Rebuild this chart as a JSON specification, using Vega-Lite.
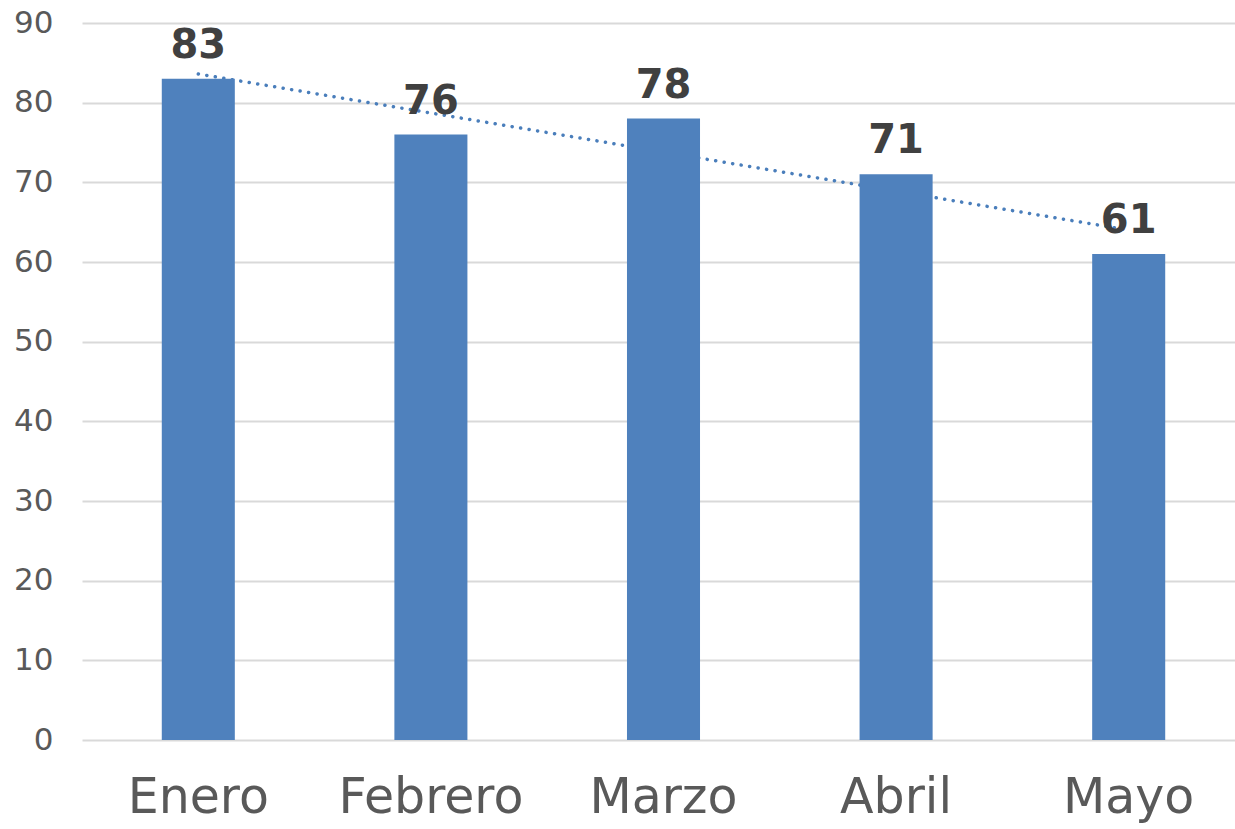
{
  "$schema": "https://vega.github.io/schema/vega-lite/v6.json",
  "autosize": "none",
  "width": 1153,
  "height": 717,
  "padding": {"left": 82, "top": 23, "right": 0, "bottom": 89},
  "background": "white",
  "config": {"view": {"stroke": null}, "font": "DejaVu Sans"},
  "data": {"values": [
    {"mes": "Enero", "valor": 83, "tendencia": 83.6},
    {"mes": "Febrero", "valor": 76, "tendencia": 78.7},
    {"mes": "Marzo", "valor": 78, "tendencia": 73.8},
    {"mes": "Abril", "valor": 71, "tendencia": 68.9},
    {"mes": "Mayo", "valor": 61, "tendencia": 64.0}
  ]},
  "encoding": {
    "x": {"field": "mes", "type": "nominal", "sort": null,
      "scale": {"range": [0, 1163], "paddingInner": 0.686, "paddingOuter": 0.343},
      "axis": {"title": null, "domain": false, "ticks": false, "labelAngle": 0, "labelFontSize": 49, "labelColor": "#595959", "labelPadding": 33, "labelLimit": 400, "labelFont": "DejaVu Sans"}}
  },
  "layer": [
    {
      "mark": {"type": "line", "color": "#4a7ebb", "strokeWidth": 3.5, "strokeDash": [0.1, 8.5], "strokeCap": "round"},
      "encoding": {
        "y": {"field": "tendencia", "type": "quantitative", "scale": {"domain": [0, 90]},
          "axis": {"title": null, "domain": false, "ticks": false, "values": [0,10,20,30,40,50,60,70,80,90], "labelFontSize": 31, "labelColor": "#595959", "labelPadding": 29, "labelFont": "DejaVu Sans", "gridColor": "#d9d9d9", "gridWidth": 2}}
      }
    },
    {
      "mark": {"type": "bar", "color": "#4f81bd"},
      "encoding": {"y": {"field": "valor", "type": "quantitative"}}
    },
    {
      "mark": {"type": "text", "baseline": "alphabetic", "dy": -21, "fontSize": 40, "fontWeight": "bold", "color": "#404040"},
      "encoding": {"y": {"field": "valor", "type": "quantitative"}, "text": {"field": "valor", "type": "quantitative"}}
    }
  ]
}
